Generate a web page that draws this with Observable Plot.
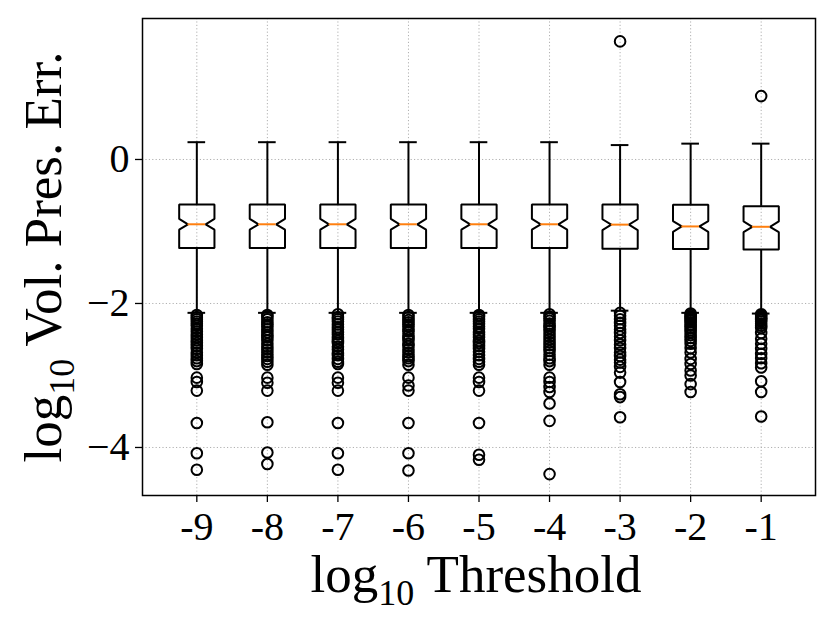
<!DOCTYPE html>
<html><head><meta charset="utf-8">
<script src="https://cdn.jsdelivr.net/npm/d3@7"></script>
<script src="https://cdn.jsdelivr.net/npm/@observablehq/plot@0.6"></script>
<style>body{margin:0;background:#fff}</style>
</head><body><div id="chart"></div>
<script>
const thresholds = [-9, -8, -7, -6, -5, -4, -3, -2, -1];
const whiskerHigh = [0.24, 0.24, 0.24, 0.24, 0.24, 0.24, 0.20, 0.22, 0.22];
const q3 = [-0.625, -0.625, -0.625, -0.625, -0.625, -0.625, -0.625, -0.63, -0.65];
const notchHigh = [-0.825, -0.825, -0.825, -0.825, -0.825, -0.825, -0.83, -0.855, -0.86];
const median = [-0.90, -0.90, -0.90, -0.90, -0.90, -0.90, -0.905, -0.93, -0.935];
const notchLow = [-0.975, -0.975, -0.975, -0.975, -0.975, -0.975, -0.98, -1.005, -1.01];
const q1 = [-1.23, -1.23, -1.23, -1.23, -1.23, -1.23, -1.24, -1.245, -1.25];
const whiskerLow = [-2.13, -2.13, -2.13, -2.13, -2.13, -2.13, -2.10, -2.13, -2.14];
const outliers = [
  [-2.16,-2.19,-2.22,-2.25,-2.28,-2.31,-2.35,-2.39,-2.43,-2.47,-2.51,-2.55,-2.59,-2.63,-2.68,-2.72,-2.76,-2.80,-2.84,-3.03,-3.09,-3.21,-3.66,-4.08,-4.31],
  [-2.16,-2.18,-2.22,-2.26,-2.29,-2.32,-2.36,-2.40,-2.44,-2.47,-2.51,-2.56,-2.60,-2.64,-2.68,-2.73,-2.77,-2.81,-2.85,-3.03,-3.10,-3.21,-3.65,-4.07,-4.23],
  [-2.15,-2.19,-2.22,-2.25,-2.29,-2.33,-2.36,-2.40,-2.43,-2.48,-2.52,-2.55,-2.60,-2.64,-2.69,-2.72,-2.77,-2.81,-2.84,-3.03,-3.10,-3.21,-3.66,-4.08,-4.31],
  [-2.16,-2.19,-2.23,-2.26,-2.29,-2.32,-2.36,-2.39,-2.44,-2.48,-2.51,-2.56,-2.59,-2.64,-2.68,-2.73,-2.76,-2.80,-2.85,-3.03,-3.14,-3.21,-3.66,-4.08,-4.32],
  [-2.16,-2.18,-2.22,-2.25,-2.28,-2.32,-2.35,-2.40,-2.43,-2.47,-2.52,-2.55,-2.59,-2.63,-2.67,-2.72,-2.77,-2.81,-2.85,-3.03,-3.09,-3.21,-3.66,-4.10,-4.17],
  [-2.15,-2.18,-2.21,-2.24,-2.28,-2.31,-2.34,-2.38,-2.42,-2.46,-2.50,-2.54,-2.58,-2.62,-2.66,-2.71,-2.76,-2.80,-2.85,-3.03,-3.09,-3.16,-3.23,-3.39,-3.63,-4.37],
  [1.64,-2.13,-2.17,-2.22,-2.27,-2.31,-2.36,-2.41,-2.46,-2.51,-2.57,-2.62,-2.68,-2.73,-2.78,-2.82,-2.88,-2.96,-3.09,-3.26,-3.30,-3.58],
  [-2.14,-2.16,-2.18,-2.20,-2.22,-2.24,-2.26,-2.29,-2.31,-2.34,-2.37,-2.40,-2.44,-2.48,-2.52,-2.56,-2.62,-2.68,-2.77,-2.84,-2.93,-3.00,-3.12,-3.23],
  [0.88,-2.15,-2.17,-2.19,-2.21,-2.23,-2.25,-2.28,-2.31,-2.34,-2.41,-2.49,-2.56,-2.63,-2.70,-2.76,-2.83,-2.89,-3.08,-3.23,-3.57]
];
const yTicks = [0, -2, -4];
const yTickLabels = ["0", "\u22122", "\u22124"];
const xTickLabels = ["-9", "-8", "-7", "-6", "-5", "-4", "-3", "-2", "-1"];
const boxWidth = 0.5;

// Build box table from the arrays
const boxes = thresholds.map((t, i) => ({
  t, hi: whiskerHigh[i], q3: q3[i], nh: notchHigh[i], med: median[i],
  nl: notchLow[i], q1: q1[i], lo: whiskerLow[i]
}));
const outline = [];
boxes.forEach((b, i) => {
  const h = boxWidth / 2, n = boxWidth / 4;
  const pts = [
    [b.t - h, b.q1], [b.t + h, b.q1], [b.t + h, b.nl], [b.t + n, b.med], [b.t + h, b.nh],
    [b.t + h, b.q3], [b.t - h, b.q3], [b.t - h, b.nh], [b.t - n, b.med], [b.t - h, b.nl], [b.t - h, b.q1]
  ];
  pts.forEach(([x, y]) => outline.push({box: i, x, y}));
});
const outlierPts = outliers.flatMap((arr, i) => arr.map(v => ({t: thresholds[i], v})));

const plot = Plot.plot({
  width: 830,
  height: 623,
  marginLeft: 142,
  marginRight: 15,
  marginTop: 18,
  marginBottom: 128,
  style: {fontFamily: "'Liberation Serif', 'DejaVu Serif', serif", background: "#fff", color: "#000"},
  x: {domain: [-9.77, -0.23]},
  y: {domain: [-4.667, 1.958]},
  marks: [
    Plot.gridX(thresholds, {stroke: "#b0b0b0", strokeOpacity: 1, strokeWidth: 1, strokeDasharray: "1.2,2.2"}),
    Plot.gridY(yTicks, {stroke: "#b0b0b0", strokeOpacity: 1, strokeWidth: 1, strokeDasharray: "1.2,2.2"}),
    Plot.axisX(thresholds, {tickSize: 7, tickPadding: 9, fontSize: 40, strokeWidth: 1.3,
      tickFormat: d => xTickLabels[thresholds.indexOf(d)], label: null}),
    Plot.axisY(yTicks, {tickSize: 7, tickPadding: 6, fontSize: 40, strokeWidth: 1.3,
      tickFormat: d => yTickLabels[yTicks.indexOf(d)], label: null}),
    Plot.ruleX(boxes, {x: "t", y1: "q3", y2: "hi", stroke: "black", strokeWidth: 2}),
    Plot.ruleX(boxes, {x: "t", y1: "q1", y2: "lo", stroke: "black", strokeWidth: 2}),
    Plot.ruleY(boxes, {y: "hi", x1: d => d.t - boxWidth / 4, x2: d => d.t + boxWidth / 4, stroke: "black", strokeWidth: 2}),
    Plot.ruleY(boxes, {y: "lo", x1: d => d.t - boxWidth / 4, x2: d => d.t + boxWidth / 4, stroke: "black", strokeWidth: 2}),
    Plot.line(outline, {x: "x", y: "y", z: "box", stroke: "black", strokeWidth: 2, strokeLinejoin: "miter", curve: "linear"}),
    Plot.ruleY(boxes, {y: "med", x1: d => d.t - boxWidth / 4, x2: d => d.t + boxWidth / 4, stroke: "#ff7f0e", strokeWidth: 2}),
    Plot.dot(outlierPts, {x: "t", y: "v", r: 5.3, stroke: "black", strokeWidth: 2, fill: "none"}),
    Plot.frame({stroke: "black", strokeWidth: 1.5})
  ]
});
document.getElementById("chart").appendChild(plot);

const svg = d3.select(plot);
const xl = svg.append("text")
  .attr("x", 476).attr("y", 592)
  .attr("text-anchor", "middle")
  .attr("font-size", 53)
  .attr("fill", "black")
  .style("white-space", "pre");
xl.append("tspan").text("log");
xl.append("tspan").attr("font-size", 36).attr("dy", 13).text("10");
xl.append("tspan").attr("dy", -13).text(" Threshold");

const yl = svg.append("text")
  .attr("transform", "translate(61,257) rotate(-90)")
  .attr("text-anchor", "middle")
  .attr("font-size", 53)
  .attr("fill", "black")
  .style("white-space", "pre");
yl.append("tspan").text("log");
yl.append("tspan").attr("font-size", 36).attr("dy", 13).text("10");
yl.append("tspan").attr("dy", -13).text(" Vol. Pres. Err.");
</script>
</body></html>
